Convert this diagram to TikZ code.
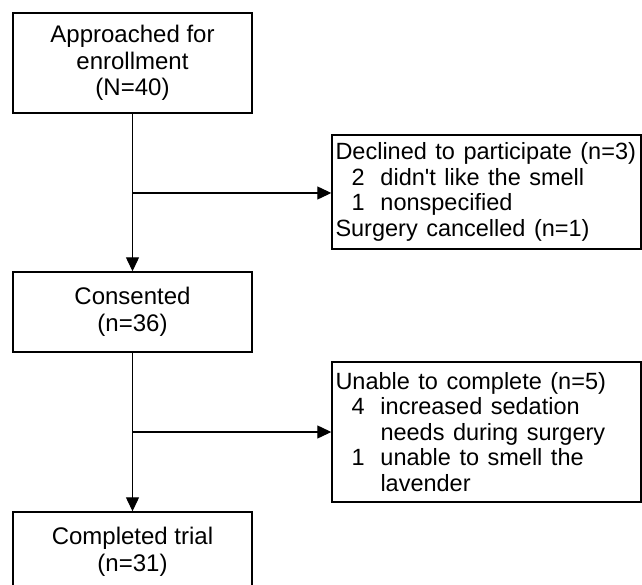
\documentclass[tikz,border=0pt]{standalone}
\usepackage{fontspec}
\setmainfont{Liberation Sans}
\usetikzlibrary{arrows.meta}
\begin{document}
\begin{tikzpicture}[x=1pt,y=-1pt,
  box/.style={draw, line width=1.4pt, rectangle, align=center, font=\fontsize{24}{26.5}\selectfont, inner sep=0pt},
  side/.style={draw, line width=1.4pt, rectangle, align=left, text width=302pt, inner xsep=3.5pt, inner ysep=0pt, font=\fontsize{23.5}{25.5}\selectfont},
  arr/.style={line width=1.2pt, -{Triangle[length=14pt,width=13pt]}}]
\useasboundingbox (0,0) rectangle (642,585);
\clip (0,0) rectangle (642,585);
\node[box, minimum width=239pt, minimum height=100pt] (b1) at (132.5,63) {Approached for\\enrollment\\(N=40)};
\node[box, minimum width=239pt, minimum height=80pt] (b3) at (132.5,312) {Consented\\(n=36)};
\node[box, minimum width=239pt, minimum height=80pt] (b5) at (132.5,552) {Completed trial\\(n=31)};
\node[side, minimum height=114pt] (b2) at (486.5,192) {\spaceskip=8.5pt plus 1pt Declined to participate (n=3)\\
\hspace*{16pt}\makebox[29pt][l]{2}didn\textquotesingle t like the smell\\
\hspace*{16pt}\makebox[29pt][l]{1}nonspecified\\
Surgery cancelled (n=1)};
\node[side, minimum height=140pt] (b4) at (486.5,432) {\spaceskip=8.5pt plus 1pt Unable to complete (n=5)\\
\hspace*{16pt}\makebox[29pt][l]{4}increased sedation\\
\hspace*{45pt}needs during surgery\\
\hspace*{16pt}\makebox[29pt][l]{1}unable to smell the\\
\hspace*{45pt}lavender};
\coordinate (j1) at (132.5,193);
\coordinate (j2) at (132.5,432);
\draw[arr] (b1.south) -- (b3.north);
\draw[arr] (j1) -- (j1 -| b2.west);
\draw[arr] (b3.south) -- (b5.north);
\draw[arr] (j2) -- (j2 -| b4.west);
\end{tikzpicture}
\end{document}
